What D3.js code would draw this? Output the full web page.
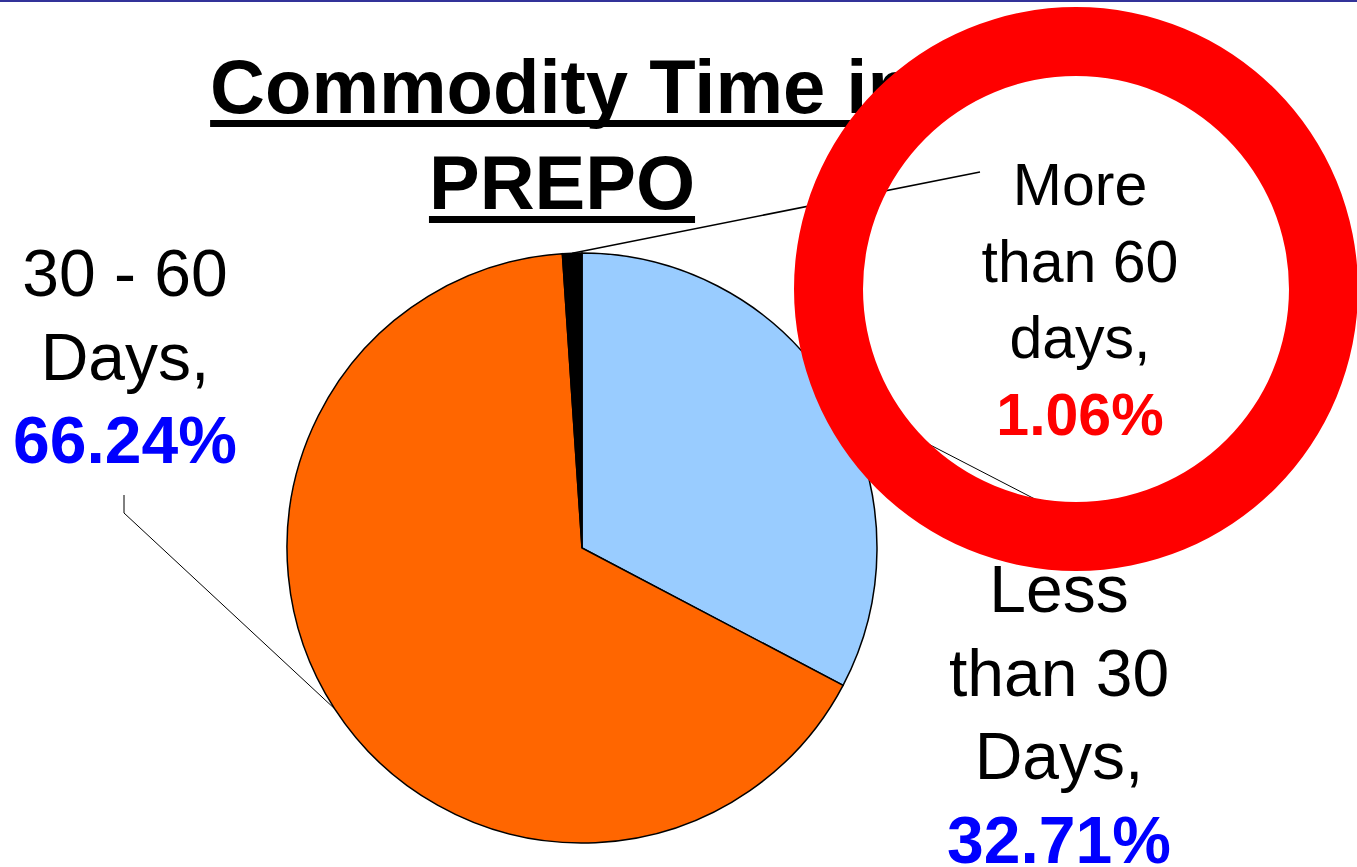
<!DOCTYPE html>
<html>
<head>
<meta charset="utf-8">
<script src="https://cdn.jsdelivr.net/npm/d3@7"></script>
<style>
  html, body { margin: 0; padding: 0; background: #fff; }
  svg { display: block; }
</style>
</head>
<body>
<svg id="pie"></svg>
<script>
// chart data
var categories = ["Less than 30 Days", "30 - 60 Days", "More than 60 days"];
var values = [32.71, 66.24, 1.06];
var nameLines = [["Less", "than 30", "Days,"], ["30 - 60", "Days,"], ["More", "than 60", "days,"]];
var pctLabels = ["32.71%", "66.24%", "1.06%"];
var sliceColors = ["#99CCFF", "#FF6600", "#000000"];
var pctColors = ["#0000FF", "#0000FF", "#FF0000"];
var titleLines = ["Commodity Time in", "PREPO"];

var width = 1357, height = 867;
var font = "'Liberation Sans', Arial, Helvetica, sans-serif";

var svg = d3.select("#pie")
  .attr("width", width)
  .attr("height", height);

// top rule
svg.append("rect")
  .attr("x", 0).attr("y", 0)
  .attr("width", width).attr("height", 2)
  .attr("fill", "#333399");

// title with underline
var title = svg.append("g").classed("title", true);
titleLines.forEach(function(t, i){
  var txt = title.append("text")
    .attr("x", 562)
    .attr("y", 113 + i * 96)
    .attr("font-family", font)
    .attr("font-weight", "bold")
    .attr("font-size", 76)
    .attr("text-anchor", "middle")
    .attr("fill", "#000")
    .text(t);
  var bb = txt.node().getBBox();
  title.append("rect")
    .attr("x", bb.x)
    .attr("y", 120 + i * 96)
    .attr("width", bb.width)
    .attr("height", 7)
    .attr("fill", "#000");
});

// pie
var cx = 582, cy = 548, r = 295;
var data = categories.map(function(c, i){ return {name: c, value: values[i], idx: i}; });

var arcs = d3.pie()
  .sort(null)
  .value(function(d){ return d.value; });

var path = d3.arc()
  .outerRadius(r)
  .innerRadius(0);

var edge = d3.arc()
  .outerRadius(r)
  .innerRadius(r);

var chart = svg.append("g")
  .attr("transform", "translate(" + cx + "," + cy + ")")
  .classed("chart", true);

var pieData = arcs(data);

chart.selectAll(".arc")
  .data(pieData)
  .enter()
  .append("path")
  .classed("arc", true)
  .attr("fill", function(d){ return sliceColors[d.data.idx]; })
  .attr("stroke", "#000")
  .attr("stroke-width", 1.5)
  .attr("d", path);

// label layout (page coords)
var labelPos = [
  {x: 1059, y: 612, size: 66, step: 83.5, lead: [[1058, 511]]},
  {x: 125, y: 296, size: 66, step: 83.5, lead: [[124, 513], [124, 495]]},
  {x: 1080, y: 205, size: 59, step: 76.5, lead: [[980, 172]]}
];

// leader lines
pieData.forEach(function(d){
  var p = labelPos[d.data.idx];
  var c = edge.centroid(d);
  var pts = [[cx + c[0], cy + c[1]]].concat(p.lead);
  svg.append("path")
    .attr("d", d3.line()(pts))
    .attr("fill", "none")
    .attr("stroke", "#000")
    .attr("stroke-width", d.data.idx === 2 ? 1.5 : 1);
});

// labels
pieData.forEach(function(d){
  var i = d.data.idx;
  var p = labelPos[i];
  var g = svg.append("g").classed("label", true);
  nameLines[i].forEach(function(line, k){
    g.append("text")
      .attr("x", p.x)
      .attr("y", p.y + k * p.step)
      .attr("font-family", font)
      .attr("font-size", p.size)
      .attr("text-anchor", "middle")
      .attr("fill", "#000")
      .text(line);
  });
  g.append("text")
    .attr("x", p.x)
    .attr("y", p.y + nameLines[i].length * p.step)
    .attr("font-family", font)
    .attr("font-weight", "bold")
    .attr("font-size", p.size)
    .attr("text-anchor", "middle")
    .attr("fill", pctColors[i])
    .text(pctLabels[i]);
});

// red highlight ring
var ringX = 1076, ringY = 289, ringOuter = 282, ringInner = 213;
var ring = d3.path();
ring.arc(ringX, ringY, ringOuter, 0, 2 * Math.PI);
ring.moveTo(ringX + ringInner, ringY);
ring.arc(ringX, ringY, ringInner, 0, 2 * Math.PI);
svg.append("path")
  .attr("d", ring.toString())
  .attr("fill", "#FF0000")
  .attr("fill-rule", "evenodd");
</script>
</body>
</html>
